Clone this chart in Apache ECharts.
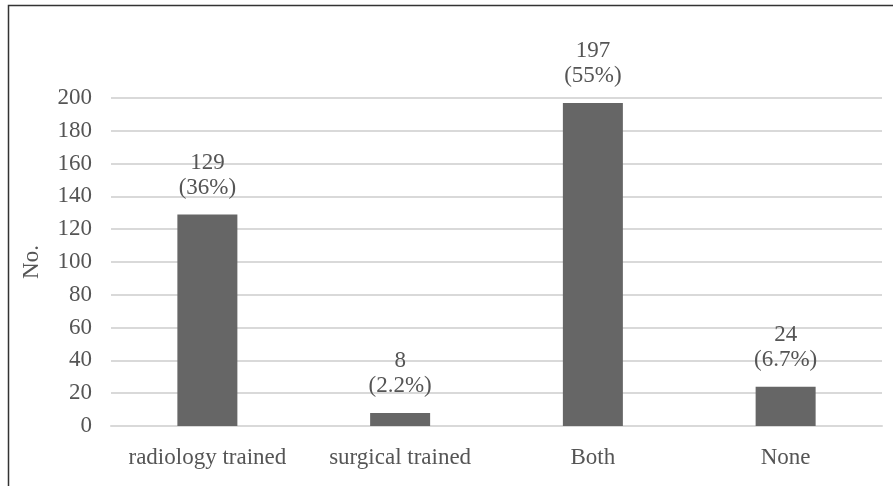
<!DOCTYPE html>
<html><head><meta charset="utf-8">
<script src="https://cdn.jsdelivr.net/npm/echarts@6/dist/echarts.min.js"></script>
<style>html,body{margin:0;padding:0;background:#fff}#c{width:893px;height:486px}</style>
</head><body><div id="c"></div>
<script>
const categories = ['radiology trained', 'surgical trained', 'Both', 'None'];
const counts = [129, 8, 197, 24];
const percents = ['36%', '2.2%', '55%', '6.7%'];
const yTicks = [0, 20, 40, 60, 80, 100, 120, 140, 160, 180, 200];

const chart = echarts.init(document.getElementById('c'));
const font = '"Liberation Serif", "Times New Roman", serif';
chart.setOption({
  animation: false,
  textStyle: { fontFamily: font },
  graphic: [{
    type: 'rect', shape: { x: 8.5, y: 5.5, width: 900, height: 500 },
    style: { fill: 'none', stroke: '#333', lineWidth: 1.5 }, silent: true
  }],
  grid: { left: 111, right: 11, top: 98, bottom: 60, containLabel: false },
  xAxis: {
    type: 'category', data: categories,
    axisTick: { show: false },
    axisLine: { lineStyle: { color: '#d9d9d9', width: 2 } },
    axisLabel: { color: '#555', fontSize: 23, fontFamily: font, margin: 20, interval: 0 }
  },
  yAxis: {
    type: 'value', min: yTicks[0], max: yTicks[yTicks.length - 1], interval: 20,
    name: 'No.', nameLocation: 'middle', nameGap: 68, nameRotate: 90,
    nameTextStyle: { color: '#555', fontSize: 23, fontFamily: font },
    axisLine: { show: false }, axisTick: { show: false },
    axisLabel: { color: '#555', fontSize: 23, fontFamily: font, margin: 19 },
    splitLine: { lineStyle: { color: '#d9d9d9', width: 2 } }
  },
  series: [{
    type: 'bar', data: counts, barWidth: 60,
    itemStyle: { color: '#666666' },
    label: {
      show: true, position: 'top', distance: 14,
      color: '#555', fontSize: 23, fontFamily: font, lineHeight: 25,
      formatter: p => p.value + '\n(' + percents[p.dataIndex] + ')'
    }
  }]
});
</script></body></html>
